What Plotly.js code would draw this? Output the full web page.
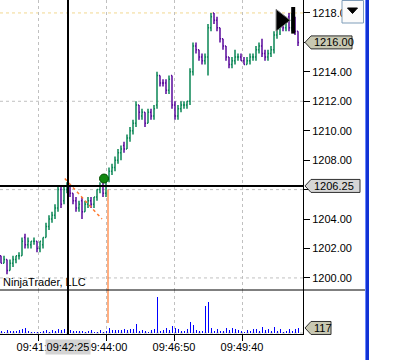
<!DOCTYPE html>
<html><head><meta charset="utf-8">
<script src="https://cdn.plot.ly/plotly-3.0.1.min.js"></script>
<style>html,body{margin:0;padding:0;background:#fff;}#chart{width:417px;height:360px;}</style>
</head><body><div id="chart"></div>
<script>
// ---- data ----
const openP  = [1201.5,1201.0,1201.25,1200.5,1201.0,1201.25,1201.5,1201.5,1202.75,1202.25,
  1202.25,1202.5,1202.5,1202.0,1202.25,1202.75,1203.5,1204.0,1204.25,1204.75,
  1206.0,1205.25,1206.0,1206.25,1205.75,1205.25,1204.75,1205.25,1204.5,1205.0,
  1205.25,1205.0,1205.5,1206.0,1206.25,1205.75,1206.75,1207.25,1207.5,1208.0,
  1208.5,1209.0,1208.75,1209.5,1210.0,1210.5,1211.75,1211.0,1211.25,1210.5,
  1211.25,1211.0,1211.75,1213.75,1213.25,1213.25,1212.75,1213.75,1211.75,1211.0,
  1211.5,1211.75,1211.75,1212.0,1214.0,1215.75,1215.5,1215.0,1214.75,1215.0,
  1217.0,1218.0,1217.5,1217.0,1216.25,1215.75,1215.0,1214.5,1214.75,1215.0,
  1215.0,1214.75,1214.5,1214.75,1215.0,1215.0,1215.5,1215.75,1215.25,1215.0,
  1215.25,1215.5,1216.5,1217.0,1217.25,1217.0,1217.75,1217.0,1217.75,1216.75];
const highP  = [1201.5,1201.5,1201.25,1201.25,1201.5,1201.5,1201.75,1202.75,1203.0,1202.75,
  1202.5,1202.75,1202.5,1202.5,1202.75,1203.75,1204.25,1204.5,1205.0,1206.25,
  1206.25,1206.25,1206.5,1206.25,1205.75,1205.5,1205.25,1205.5,1205.25,1205.5,
  1205.5,1205.5,1206.0,1206.5,1206.5,1207.0,1207.5,1207.75,1208.25,1208.75,
  1209.0,1209.25,1209.75,1210.25,1210.75,1212.0,1211.75,1211.5,1211.25,1211.5,
  1211.5,1211.75,1214.0,1213.75,1213.5,1213.5,1213.75,1213.75,1212.0,1211.75,
  1212.0,1212.0,1212.0,1214.25,1216.0,1216.0,1215.5,1215.25,1215.25,1217.25,
  1218.0,1218.0,1217.75,1217.0,1216.25,1215.75,1215.0,1215.0,1215.5,1215.25,
  1215.25,1215.0,1215.0,1215.25,1215.25,1215.75,1216.0,1216.25,1215.5,1215.5,
  1215.75,1216.75,1217.25,1217.5,1217.5,1217.75,1218.0,1218.0,1217.75,1216.75];
const lowP   = [1201.0,1201.0,1200.25,1200.5,1200.75,1201.0,1201.25,1201.5,1202.0,1202.0,
  1202.0,1202.25,1201.75,1201.75,1202.0,1202.75,1203.25,1203.75,1204.0,1204.5,
  1204.75,1205.0,1205.75,1205.5,1205.0,1204.5,1204.5,1204.0,1204.5,1204.75,
  1204.75,1204.75,1205.25,1205.75,1205.5,1205.5,1206.5,1207.0,1207.25,1207.75,
  1208.0,1208.5,1208.75,1209.25,1209.75,1210.25,1210.75,1210.75,1210.25,1210.5,
  1210.75,1210.75,1211.5,1213.0,1213.0,1212.5,1212.5,1211.5,1210.75,1210.75,
  1211.25,1211.5,1211.5,1211.75,1213.75,1215.25,1214.75,1214.5,1214.5,1213.75,
  1216.75,1217.25,1216.75,1216.0,1215.5,1214.75,1214.25,1214.25,1214.5,1214.75,
  1214.75,1214.5,1214.5,1214.5,1214.75,1214.75,1215.25,1215.0,1214.75,1214.75,
  1215.0,1215.25,1216.25,1216.5,1216.75,1216.75,1216.75,1216.75,1216.5,1215.75];
const closeP = [1201.0,1201.25,1200.5,1201.0,1201.25,1201.5,1201.5,1202.5,1202.25,1202.5,
  1202.5,1202.5,1202.0,1202.5,1202.75,1203.5,1204.0,1204.25,1204.75,1206.0,
  1205.0,1206.0,1206.25,1205.75,1205.25,1204.75,1205.0,1204.5,1205.0,1205.25,
  1205.0,1205.5,1206.0,1206.25,1205.75,1206.75,1207.25,1207.5,1208.0,1208.5,
  1208.75,1208.75,1209.5,1210.0,1210.5,1211.75,1211.25,1211.25,1210.5,1211.25,
  1211.0,1211.5,1213.75,1213.25,1213.25,1212.75,1213.5,1211.75,1211.0,1211.5,
  1211.75,1211.75,1212.0,1214.0,1215.75,1215.5,1215.0,1214.75,1215.0,1217.0,
  1217.75,1217.5,1217.0,1216.25,1215.75,1215.0,1214.5,1214.75,1215.0,1215.0,
  1214.75,1214.5,1214.75,1215.0,1215.0,1215.5,1215.75,1215.25,1215.0,1215.25,
  1215.5,1216.5,1217.0,1217.25,1217.0,1217.5,1217.0,1217.75,1216.75,1216.0];
const volume = [40,25,60,40,40,45,60,95,110,40, 25,25,25,20,50,60,30,75,40,95,
  80,95,95,60,40,40,40,40,25,40, 60,25,25,60,25,40,115,75,60,60,
  75,95,60,95,95,210,55,70,40,25, 75,95,830,55,70,115,70,170,115,95,
  40,40,95,260,195,70,40,40,635,715, 115,55,95,55,55,115,70,115,95,70,
  40,25,70,40,95,95,55,145,70,95, 40,145,40,95,25,40,95,55,95,117];
const firstBarTime = '09:39:37.5';
const barSeconds = 7.5;
const axisStartTime = '09:39:35';
const axisEndTime = '09:52:12.5';
const timeTickLabels = ['09:41:10','09:44:00','09:46:50','09:49:40'];
const priceTicks = [1200,1202,1204,1206,1208,1210,1212,1214,1216,1218];
const priceRange = [1199.18, 1218.88];
const volumeRange = [-23, 1000];
const gridPrices = [1200,1206,1212];
const sessionHighLine = [1218];
const crossTime = '09:42:25';
const crossPrice = 1206.25;
const lastPrice = 1216.00;
const lastVolume = 117;
const signalTimes = ['09:43:55'];
const signalPrices = [1206.75];
const trendTimes = ['09:42:17','09:43:50'];
const trendPrices = [1206.75,1204.0];
const markTime = '09:44:05';
const markTopPrice = 1206.0;
const markLowVolume = 230;
const entryTimes = ['09:51:17'];
const entryPrices = [1217.5];
const stopTimes = ['09:51:48'];
const stopPrices = [1217.5];
const watermark = 'NinjaTrader, LLC';

// ---- helpers ----
function toSec(s){const p=s.split(':').map(Number);return p[0]*3600+p[1]*60+p[2];}
const t0 = toSec(firstBarTime);
const barTimes = openP.map((_,i)=>t0+i*barSeconds);
const PR=303, PB=334, SPLIT=290;
const fx = px => px/PR;
const fy = py => (PB-py)/PB;
const priceDomain = [(PB-SPLIT)/PB, 1];
const priceToPx = p => (priceRange[1]-p)/(priceRange[1]-priceRange[0])*SPLIT;
const volToPx = v => SPLIT + (volumeRange[1]-v)/(volumeRange[1]-volumeRange[0])*(PB-SPLIT);
const FONT = {family:'"Liberation Sans", Arial, sans-serif', size:11, color:'#000'};
const GREEN='#0b8656', PURPLE='#5a0a9c';

function tag(cy, right, fill){
  const h=6.5, tipX=305, bodyX=311;
  return {type:'path', xref:'paper', yref:'paper', layer:'above',
    path:`M ${fx(tipX)},${fy(cy)} L ${fx(bodyX)},${fy(cy-h)} L ${fx(right)},${fy(cy-h)} L ${fx(right)},${fy(cy+h)} L ${fx(bodyX)},${fy(cy+h)} Z`,
    fillcolor:fill, line:{color:'#303030', width:1}};
}
// tick labels hidden under the value tags
const tagPrices = [crossPrice, lastPrice];
const priceTickText = priceTicks.map(v => tagPrices.some(p => Math.abs(priceToPx(p)-priceToPx(v)) < 9) ? '' : v.toFixed(2));

const traces = [
  {type:'bar', x:barTimes, y:volume, xaxis:'x', yaxis:'y2', width:2.5,
   marker:{color:'#0000ff', line:{width:0}}, hoverinfo:'skip'},
  {type:'ohlc', x:barTimes, open:openP, high:highP, low:lowP, close:closeP, xaxis:'x', yaxis:'y',
   increasing:{line:{color:GREEN, width:1.5}}, decreasing:{line:{color:PURPLE, width:1.5}},
   tickwidth:0.35, hoverinfo:'skip'},
  {type:'scatter', mode:'lines', x:trendTimes.map(toSec), y:trendPrices, yaxis:'y',
   line:{color:'#ff7a30', width:1.5, dash:'dot'}, hoverinfo:'skip'},
  {type:'scatter', mode:'lines', x:[toSec(markTime),toSec(markTime)], y:[markTopPrice, priceRange[0]-5], yaxis:'y',
   line:{color:'#ff7a30', width:1.2}, hoverinfo:'skip'},
  {type:'scatter', mode:'lines', x:[toSec(markTime),toSec(markTime)], y:[volumeRange[1]*2, markLowVolume], yaxis:'y2',
   line:{color:'#ff7a30', width:1.2}, hoverinfo:'skip'},
  {type:'scatter', mode:'markers', x:signalTimes.map(toSec), y:signalPrices, yaxis:'y',
   marker:{symbol:'circle', size:9, color:'#118811', line:{color:'#005000', width:1}}, hoverinfo:'skip'},
  {type:'scatter', mode:'markers', x:entryTimes.map(toSec), y:entryPrices, yaxis:'y', cliponaxis:false,
   marker:{symbol:'triangle-right', size:19, color:'#000', line:{color:'#808080', width:1}}, hoverinfo:'skip'},
  {type:'scatter', mode:'markers', x:stopTimes.map(toSec), y:stopPrices, yaxis:'y', cliponaxis:false,
   marker:{symbol:'line-ns', size:19, line:{color:'#000', width:4}}, hoverinfo:'skip'}
];

const shapes = [];
gridPrices.forEach(p=>shapes.push({type:'line', layer:'below', xref:'paper', yref:'y', x0:0, x1:1, y0:p, y1:p,
  line:{color:'#c0c0c0', width:1, dash:'dot'}}));
sessionHighLine.forEach(p=>shapes.push({type:'line', layer:'below', xref:'paper', yref:'y', x0:0, x1:1, y0:p, y1:p,
  line:{color:'#f2d890', width:1, dash:'dot'}}));
shapes.push({type:'line', layer:'below', xref:'paper', yref:'y2', x0:0, x1:1, y0:0, y1:0,
  line:{color:'#c0c0c0', width:1, dash:'dot'}});
// crosshair
shapes.push({type:'line', xref:'x', yref:'paper', x0:toSec(crossTime), x1:toSec(crossTime), y0:0, y1:1, line:{color:'#000', width:2}});
shapes.push({type:'line', xref:'paper', yref:'paper', x0:0, x1:1, y0:fy(priceToPx(crossPrice)), y1:fy(priceToPx(crossPrice)), line:{color:'#000', width:2}});
// panel separator
shapes.push({type:'line', xref:'paper', yref:'paper', x0:0, x1:fx(365), y0:fy(SPLIT), y1:fy(SPLIT), line:{color:'#000', width:1}});
// blue window edge
shapes.push({type:'rect', xref:'paper', yref:'paper', x0:fx(365), x1:fx(369), y0:fy(360), y1:fy(0), fillcolor:'#1232d4', line:{width:0}});
shapes.push({type:'line', xref:'paper', yref:'paper', x0:fx(365.5), x1:fx(365.5), y0:fy(360), y1:fy(0), line:{color:'#6a88ff', width:1}});
// dropdown button
shapes.push({type:'rect', xref:'paper', yref:'paper', x0:fx(342), x1:fx(363.5), y0:fy(23), y1:fy(0.5), fillcolor:'#fbfbfb', line:{color:'#7f9db9', width:1}});
shapes.push({type:'path', xref:'paper', yref:'paper', path:`M ${fx(347.5)},${fy(8)} L ${fx(357.5)},${fy(8)} L ${fx(352.5)},${fy(13.5)} Z`, fillcolor:'#000', line:{color:'#000', width:1}});
// value tags
shapes.push(tag(priceToPx(crossPrice), 360, '#d6d6d6'));
shapes.push(tag(priceToPx(lastPrice), 352, '#c8c8b2'));
shapes.push(tag(volToPx(lastVolume), 331, '#c8c8b2'));

const annotations = [
  {xref:'paper', yref:'paper', x:fx(1), y:fy(281.5), xanchor:'left', yanchor:'middle', text:watermark, showarrow:false,
   font:{...FONT, size:11}},
  {xref:'paper', yref:'paper', x:fx(312), y:fy(priceToPx(crossPrice)), xanchor:'left', yanchor:'middle', text:crossPrice.toFixed(2), showarrow:false, font:FONT},
  {xref:'paper', yref:'paper', x:fx(312), y:fy(priceToPx(lastPrice)), xanchor:'left', yanchor:'middle', text:lastPrice.toFixed(2), showarrow:false, font:FONT},
  {xref:'paper', yref:'paper', x:fx(312), y:fy(volToPx(lastVolume)), xanchor:'left', yanchor:'middle', text:String(lastVolume), showarrow:false, font:FONT},
  {xref:'x', yref:'paper', x:toSec(crossTime), y:fy(347), xanchor:'center', yanchor:'middle', text:crossTime, showarrow:false,
   font:FONT, bgcolor:'#d4d4d4', width:42, height:12, borderpad:1}
];

const layout = {
  width:417, height:360, margin:{l:0, r:417-PR, t:0, b:360-PB, pad:0},
  paper_bgcolor:'#fff', plot_bgcolor:'#fff', showlegend:false, bargap:0, dragmode:false,
  font:FONT,
  xaxis:{domain:[0,1], anchor:'y2', range:[toSec(axisStartTime), toSec(axisEndTime)],
    tickmode:'array', tickvals:timeTickLabels.map(toSec), ticktext:timeTickLabels,
    ticks:'outside', ticklen:6, tickcolor:'#000', tickwidth:1, tickfont:FONT, ticklabelstandoff:-3,
    showline:true, linecolor:'#000', linewidth:1, showgrid:true, gridcolor:'#c0c0c0', griddash:'dot', gridwidth:1,
    zeroline:false, rangeslider:{visible:false}, fixedrange:true},
  yaxis:{domain:priceDomain, anchor:'x', side:'right', range:priceRange,
    tickmode:'array', tickvals:priceTicks, ticktext:priceTickText,
    ticks:'outside', ticklen:6, tickcolor:'#000', tickwidth:1, tickfont:FONT,
    showline:true, linecolor:'#000', linewidth:1, showgrid:false, zeroline:false, fixedrange:true},
  yaxis2:{domain:[0,priceDomain[0]], anchor:'x', side:'right', range:volumeRange,
    showticklabels:false, ticks:'', showline:true, linecolor:'#000', linewidth:1, showgrid:false, zeroline:false, fixedrange:true},
  shapes:shapes, annotations:annotations
};
Plotly.newPlot('chart', traces, layout, {staticPlot:true, displayModeBar:false});
</script></body></html>
